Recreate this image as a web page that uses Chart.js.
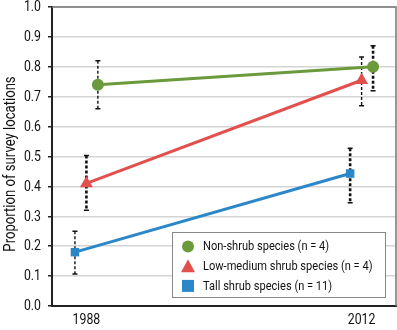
<!DOCTYPE html>
<html lang="en">
<head>
<meta charset="UTF-8">
<title>Proportion of survey locations</title>
<script src="https://cdn.jsdelivr.net/npm/chart.js@4/dist/chart.umd.min.js"></script>
<style>
  html, body { margin: 0; padding: 0; background: #fff; overflow: hidden; }
  #wrap { width: 397px; height: 330px; }
  canvas { display: block; }
</style>
</head>
<body>
<div id="wrap"><canvas id="myChart" width="397" height="330"></canvas></div>
<script>
// data
const years = [1988, 2012];
const seriesNames = ["Non-shrub species (n = 4)", "Low-medium shrub species (n = 4)", "Tall shrub species (n = 11)"];
const nonShrub = [0.74, 0.80];
const nonShrubLow = [0.66, 0.72];
const nonShrubHigh = [0.82, 0.87];
const lowMedShrub = [0.41, 0.755];
const lowMedShrubLow = [0.32, 0.67];
const lowMedShrubHigh = [0.503, 0.833];
const tallShrub = [0.18, 0.443];
const tallShrubLow = [0.107, 0.345];
const tallShrubHigh = [0.25, 0.528];
const yTicks = [0.0, 0.1, 0.2, 0.3, 0.4, 0.5, 0.6, 0.7, 0.8, 0.9, 1.0];
const yTitle = "Proportion of survey locations";

// styles
const FONT = "Roboto, 'DejaVu Sans', sans-serif";
const SQUEEZE = 0.82;   // condensed look
const colors = ["#6b9a3c", "#e2504e", "#2b87c8"];
const shapes = ["circle", "triangle", "rect"];
const nudge = [1, 0, -1];           // small x shift so bars don't overlap
const barWidths = [[1.4, 2.6], [2.6, 1.4], [1.4, 2.6]];

const values = [nonShrub, lowMedShrub, tallShrub];
const lows = [nonShrubLow, lowMedShrubLow, tallShrubLow];
const highs = [nonShrubHigh, lowMedShrubHigh, tallShrubHigh];

function squeezedText(ctx, text, x, y, size, align, rot) {
  ctx.save();
  ctx.translate(x, y);
  if (rot) ctx.rotate(rot);
  ctx.scale(SQUEEZE, 1);
  ctx.font = size + "px " + FONT;
  ctx.textAlign = align;
  ctx.textBaseline = "middle";
  ctx.fillStyle = "#111";
  ctx.fillText(text, 0, 0);
  ctx.restore();
}

const datasets = values.map((vals, i) => ({
  label: seriesNames[i],
  data: vals.map((v, j) => ({ x: years[j] + nudge[i], y: v })),
  borderColor: colors[i],
  backgroundColor: colors[i],
  borderWidth: 3,
  pointStyle: shapes[i],
  pointRadius: i === 1 ? 7.5 : 6,
  pointBorderWidth: 0,
  tension: 0
}));

const errorBars = {
  id: "errorBars",
  beforeDatasetsDraw(chart) {
    const ctx = chart.ctx, xs = chart.scales.x, ys = chart.scales.y;
    ctx.save();
    ctx.strokeStyle = "#111";
    values.forEach((vals, i) => {
      vals.forEach((v, j) => {
        const x = xs.getPixelForValue(years[j] + nudge[i]);
        const top = ys.getPixelForValue(highs[i][j]);
        const bot = ys.getPixelForValue(lows[i][j]);
        ctx.lineWidth = barWidths[i][j];
        ctx.setLineDash([3, 2]);
        ctx.beginPath();
        ctx.moveTo(x, top);
        ctx.lineTo(x, bot);
        ctx.stroke();
        ctx.setLineDash([]);
        ctx.lineWidth = 1.5;
        ctx.beginPath();
        ctx.moveTo(x - 2.5, top); ctx.lineTo(x + 2.5, top);
        ctx.moveTo(x - 2.5, bot); ctx.lineTo(x + 2.5, bot);
        ctx.stroke();
      });
    });
    ctx.restore();
  }
};

const frameAndText = {
  id: "frameAndText",
  beforeDatasetsDraw(chart) {
    const { ctx, chartArea: a } = chart;
    ctx.save();
    ctx.strokeStyle = "#777";
    ctx.lineWidth = 1.5;
    ctx.beginPath();
    ctx.moveTo(a.left, a.top);
    ctx.lineTo(a.right, a.top);
    ctx.lineTo(a.right, a.bottom);
    ctx.stroke();
    ctx.restore();
  },
  afterDraw(chart) {
    const ctx = chart.ctx, xs = chart.scales.x, ys = chart.scales.y;
    // tick labels
    yTicks.forEach(v => squeezedText(ctx, v.toFixed(1), 41, ys.getPixelForValue(v) + 0.5, 15, "right"));
    years.forEach(v => squeezedText(ctx, String(v), xs.getPixelForValue(v), 320.5, 15, "center"));
    // axis title
    squeezedText(ctx, yTitle, 11, 164, 16, "center", -Math.PI / 2);
    // legend
    const bx = 172.5, by = 232.5, bw = 213, bh = 65;
    ctx.save();
    ctx.fillStyle = "#fff";
    ctx.fillRect(bx, by, bw, bh);
    ctx.strokeStyle = "#888";
    ctx.lineWidth = 1;
    ctx.strokeRect(bx, by, bw, bh);
    seriesNames.forEach((name, i) => {
      const cy = 246.5 + i * 19.7;
      ctx.fillStyle = colors[i];
      ctx.beginPath();
      if (shapes[i] === "circle") {
        ctx.arc(188, cy, 6, 0, Math.PI * 2);
      } else if (shapes[i] === "triangle") {
        ctx.moveTo(188, cy - 7); ctx.lineTo(195, cy + 6); ctx.lineTo(181, cy + 6); ctx.closePath();
      } else {
        ctx.rect(182, cy - 6, 12, 12);
      }
      ctx.fill();
      squeezedText(ctx, name, 203, cy + 0.5, 13.5, "left");
    });
    ctx.restore();
  }
};

new Chart(document.getElementById("myChart"), {
  type: "line",
  data: { datasets },
  options: {
    responsive: false,
    animation: false,
    devicePixelRatio: 1,
    layout: { autoPadding: false, padding: { top: 7, right: 1, left: 0, bottom: 0 } },
    plugins: { legend: { display: false }, tooltip: { enabled: false } },
    scales: {
      x: {
        type: "linear",
        min: 1985,
        max: 2015,
        afterBuildTicks: (s) => { s.ticks = years.map(v => ({ value: v })); },
        afterFit: (s) => { s.height = 24; s.paddingLeft = 0; s.paddingRight = 0; },
        grid: { display: false, drawTicks: false },
        border: { display: true, color: "#222", width: 2 },
        ticks: { display: false }
      },
      y: {
        min: 0,
        max: 1,
        afterBuildTicks: (s) => { s.ticks = yTicks.map(v => ({ value: v })); },
        afterFit: (s) => { s.width = 52; s.paddingTop = 0; s.paddingBottom = 0; },
        grid: { color: "#d4d4d4", lineWidth: 1.5, tickLength: 4, tickColor: "#222", tickWidth: 1.5 },
        border: { display: true, color: "#222", width: 2 },
        ticks: { display: false }
      }
    }
  },
  plugins: [frameAndText, errorBars]
});
</script>
</body>
</html>
